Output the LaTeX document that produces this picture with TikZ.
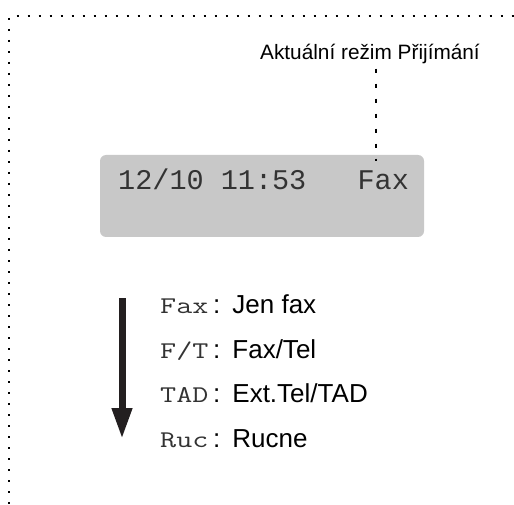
\documentclass[tikz,border=0pt]{standalone}
\usepackage{fontspec}
\setmainfont{Liberation Sans}
\newfontfamily\lcdfont{Liberation Mono}
\newfontfamily\keyfont[FakeStretch=1.3]{Latin Modern Mono}
\usetikzlibrary{arrows.meta}
\definecolor{lcdgray}{HTML}{C8C8C8}
\definecolor{arrowblack}{HTML}{231F20}

\tikzset{%
  frameline/.style={line width=2pt, dash pattern=on 2pt off 9pt},
  pointer/.style ={line width=2.5pt, dash pattern=on 4pt off 11pt},
  lcd/.style     ={fill=lcdgray, rounded corners=6pt, minimum width=324pt,
                   minimum height=82pt, inner sep=0pt},
  lcdchars/.style={inner sep=0pt, anchor=base west, text=black!80,
                   font=\lcdfont\fontsize{28.5}{30}\selectfont},
  modekey/.style ={inner sep=0pt, anchor=base west, text=black!80,
                   font=\keyfont\fontsize{24}{27}\selectfont},
  modedesc/.style={inner sep=0pt, anchor=base west,
                   font=\fontsize{26}{29}\selectfont},
  modearrow/.style={arrowblack, line width=7pt,
                   -{Triangle[length=31pt,width=19pt]}},
}

\begin{document}
\begin{tikzpicture}[x=1pt, y=-1pt]
  \useasboundingbox (0,0) rectangle (514,505);
  % dotted frame
  \draw[frameline] (16.7,16) -- (514,16);
  \draw[frameline] (9.3,18) -- (9.3,505);
  \node[inner sep=0pt, anchor=base, font=\fontsize{20.8}{24}\selectfont] (lbl) at (370,60) {Aktuální režim Přijímání};
  \node[lcd] (lcd) at (262,196) {};
  \node[lcdchars] (clock) at (118,190) {12/10~11:53~~~Fax};
  \coordinate (fx) at (376,161);
  \draw[pointer] ([yshift=-4pt]lbl.south -| fx) -- (fx);
  \coordinate (atop) at (122,298);
  \coordinate (abot) at (122,439);
  \draw[modearrow] (atop) -- (abot);
  \node[modekey] (kfax) at (160,313) {Fax};
  \node[modedesc] (dfax) at (213,313) {:\hspace{12pt}Jen fax};
  \node[modekey] (kft) at (160,358) {F/T};
  \node[modedesc] (dft) at (213,358) {:\hspace{12pt}Fax/Tel};
  \node[modekey] (ktad) at (160,402) {TAD};
  \node[modedesc] (dtad) at (213,402) {:\hspace{12pt}Ext.Tel/TAD};
  \node[modekey] (kruc) at (160,447) {Ruc};
  \node[modedesc] (druc) at (213,447) {:\hspace{12pt}Rucne};
\end{tikzpicture}
\end{document}
